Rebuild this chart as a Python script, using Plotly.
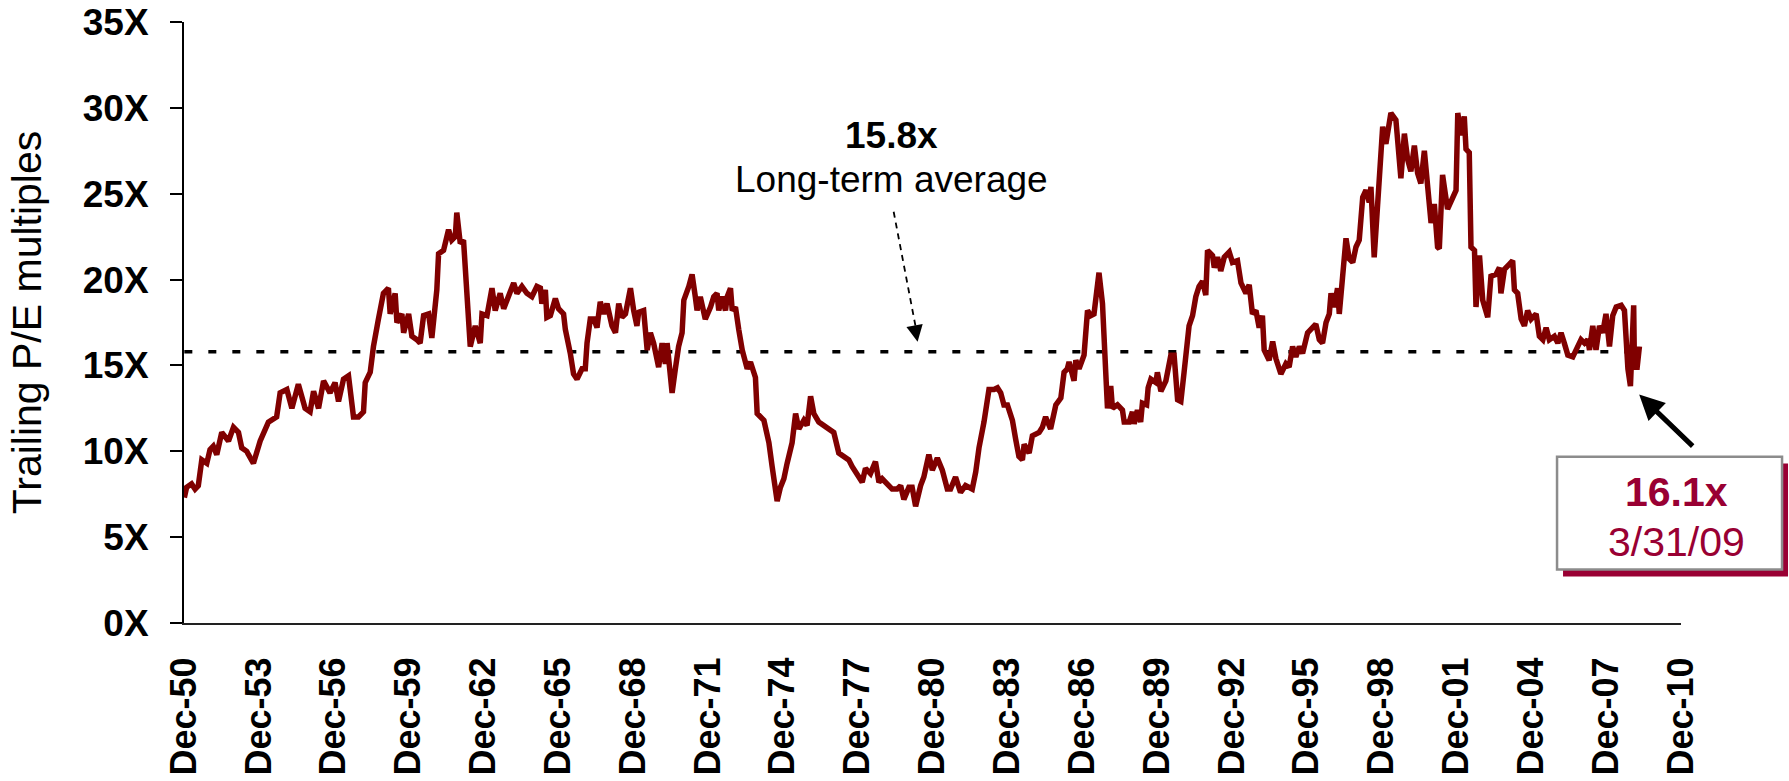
import plotly.graph_objects as go

# Trailing P/E multiple of the market, Dec-1950 through 3/31/2009 (decimal years)
years = [
    1950.93, 1951.02, 1951.22, 1951.36, 1951.49, 1951.63, 1951.83, 1951.96, 1952.09, 1952.23,
    1952.43, 1952.70, 1952.90, 1953.10, 1953.23, 1953.43, 1953.70, 1953.97, 1954.30, 1954.63,
    1954.77, 1955.04, 1955.24, 1955.50, 1955.77, 1955.97, 1956.11, 1956.31, 1956.51, 1956.77,
    1956.97, 1957.11, 1957.31, 1957.51, 1957.71, 1957.91, 1958.11, 1958.18, 1958.38, 1958.51,
    1958.71, 1958.91, 1959.11, 1959.18, 1959.38, 1959.45, 1959.65, 1959.72, 1959.92, 1960.05,
    1960.25, 1960.38, 1960.52, 1960.72, 1960.85, 1961.05, 1961.12, 1961.32, 1961.52, 1961.65,
    1961.79, 1961.85, 1961.99, 1962.12, 1962.39, 1962.46, 1962.59, 1962.79, 1962.86, 1963.06,
    1963.26, 1963.39, 1963.59, 1963.73, 1963.93, 1964.13, 1964.26, 1964.46, 1964.66, 1964.86,
    1965.06, 1965.20, 1965.26, 1965.40, 1965.46, 1965.60, 1965.80, 1965.93, 1966.13, 1966.20,
    1966.40, 1966.53, 1966.67, 1966.87, 1967.00, 1967.07, 1967.20, 1967.34, 1967.47, 1967.60,
    1967.74, 1967.87, 1968.07, 1968.21, 1968.34, 1968.47, 1968.61, 1968.81, 1968.94, 1969.07,
    1969.14, 1969.34, 1969.48, 1969.61, 1969.74, 1969.94, 1970.08, 1970.21, 1970.28, 1970.48,
    1970.61, 1970.74, 1970.88, 1970.95, 1971.15, 1971.28, 1971.41, 1971.48, 1971.61, 1971.81,
    1972.02, 1972.15, 1972.28, 1972.35, 1972.48, 1972.62, 1972.69, 1972.82, 1972.89, 1973.02,
    1973.15, 1973.29, 1973.49, 1973.62, 1973.82, 1973.89, 1974.16, 1974.36, 1974.49, 1974.69,
    1974.82, 1974.96, 1975.09, 1975.29, 1975.43, 1975.56, 1975.76, 1975.89, 1976.03, 1976.16,
    1976.36, 1976.56, 1976.76, 1976.96, 1977.16, 1977.36, 1977.56, 1977.70, 1977.90, 1978.10,
    1978.23, 1978.43, 1978.63, 1978.77, 1978.90, 1979.10, 1979.30, 1979.50, 1979.64, 1979.77,
    1979.97, 1980.10, 1980.24, 1980.44, 1980.57, 1980.77, 1980.91, 1981.11, 1981.31, 1981.51,
    1981.64, 1981.84, 1982.04, 1982.24, 1982.51, 1982.65, 1982.78, 1982.98, 1983.18, 1983.38,
    1983.52, 1983.65, 1983.78, 1983.92, 1984.12, 1984.25, 1984.38, 1984.52, 1984.59, 1984.79,
    1984.92, 1985.19, 1985.32, 1985.45, 1985.65, 1985.86, 1986.06, 1986.19, 1986.32, 1986.39,
    1986.59, 1986.66, 1986.79, 1986.99, 1987.13, 1987.26, 1987.39, 1987.59, 1987.73, 1987.86,
    1987.93, 1988.06, 1988.13, 1988.33, 1988.53, 1988.60, 1988.80, 1988.93, 1989.00, 1989.13,
    1989.26, 1989.33, 1989.50, 1989.56, 1989.67, 1989.87, 1989.93, 1990.07, 1990.27, 1990.47,
    1990.60, 1990.74, 1990.87, 1991.00, 1991.14, 1991.20, 1991.34, 1991.47, 1991.60, 1991.74,
    1991.87, 1991.94, 1992.14, 1992.21, 1992.34, 1992.47, 1992.61, 1992.81, 1992.94, 1993.14,
    1993.28, 1993.48, 1993.61, 1993.74, 1993.88, 1994.01, 1994.14, 1994.21, 1994.41, 1994.55,
    1994.68, 1994.88, 1995.08, 1995.21, 1995.35, 1995.48, 1995.62, 1995.75, 1995.95, 1996.08,
    1996.28, 1996.42, 1996.55, 1996.69, 1996.82, 1996.89, 1997.02, 1997.15, 1997.22, 1997.35,
    1997.49, 1997.62, 1997.76, 1997.89, 1998.02, 1998.16, 1998.29, 1998.42, 1998.49, 1998.62,
    1998.83, 1998.96, 1999.09, 1999.29, 1999.49, 1999.56, 1999.69, 1999.83, 1999.96, 2000.09,
    2000.23, 2000.36, 2000.49, 2000.63, 2000.76, 2000.90, 2001.03, 2001.16, 2001.23, 2001.36,
    2001.56, 2001.70, 2001.90, 2001.97, 2002.10, 2002.23, 2002.30, 2002.43, 2002.50, 2002.64,
    2002.70, 2002.84, 2002.97, 2003.17, 2003.30, 2003.50, 2003.64, 2003.70, 2003.84, 2004.04,
    2004.17, 2004.24, 2004.37, 2004.51, 2004.64, 2004.77, 2004.91, 2005.11, 2005.24, 2005.38,
    2005.51, 2005.64, 2005.84, 2005.98, 2006.11, 2006.24, 2006.38, 2006.58, 2006.78, 2006.91,
    2007.05, 2007.18, 2007.25, 2007.38, 2007.51, 2007.65, 2007.78, 2007.91, 2008.05, 2008.18,
    2008.32, 2008.52, 2008.65, 2008.79, 2008.89, 2009.02, 2009.05, 2009.16, 2009.25,
]

pe_multiple = [
    7.3, 7.9, 8.1, 7.8, 8.0, 9.5, 9.3, 10.1, 10.3, 9.8,
    11.1, 10.6, 11.4, 11.1, 10.2, 10.0, 9.3, 10.6, 11.7, 12.0,
    13.4, 13.6, 12.5, 13.9, 12.5, 12.3, 13.5, 12.5, 14.1, 13.4,
    14.0, 12.9, 14.2, 14.4, 12.0, 12.0, 12.3, 14.0, 14.6, 16.1,
    17.7, 19.2, 19.5, 18.0, 19.2, 17.5, 18.0, 16.9, 18.0, 16.7,
    16.5, 16.3, 17.9, 18.0, 16.6, 19.4, 21.5, 21.7, 22.9, 22.3,
    22.5, 23.9, 22.1, 22.3, 16.1, 16.5, 17.3, 16.3, 18.0, 17.9,
    19.5, 18.2, 19.2, 18.3, 19.0, 19.8, 19.2, 19.6, 19.2, 19.0,
    19.6, 19.5, 18.6, 19.4, 17.8, 17.9, 18.9, 18.3, 18.0, 17.1,
    15.7, 14.5, 14.2, 14.8, 14.8, 16.3, 17.7, 17.7, 17.2, 18.7,
    18.0, 18.6, 17.3, 16.9, 18.6, 17.8, 18.0, 19.5, 18.2, 17.3,
    18.1, 18.2, 15.9, 16.9, 16.3, 14.9, 16.3, 15.1, 16.3, 13.4,
    14.8, 16.1, 16.9, 18.8, 19.6, 20.3, 19.0, 18.2, 19.0, 17.7,
    18.4, 19.0, 19.2, 18.2, 19.0, 18.2, 19.0, 19.5, 18.2, 18.4,
    17.1, 15.9, 14.8, 15.2, 14.3, 12.2, 11.8, 10.5, 9.1, 7.1,
    7.9, 8.4, 9.3, 10.5, 12.2, 11.3, 11.8, 11.5, 13.2, 12.2,
    11.7, 11.5, 11.3, 11.1, 9.9, 9.7, 9.5, 9.1, 8.7, 8.2,
    9.0, 8.7, 9.4, 8.2, 8.4, 8.1, 7.8, 7.8, 8.0, 7.2,
    7.9, 7.9, 6.8, 8.0, 8.5, 9.8, 8.9, 9.6, 8.9, 7.8,
    7.8, 8.5, 7.6, 8.0, 7.8, 8.8, 10.2, 11.7, 13.6, 13.6,
    13.7, 13.4, 12.7, 12.7, 11.8, 10.7, 9.7, 9.5, 10.4, 9.9,
    10.9, 11.1, 11.4, 12.0, 11.3, 12.7, 13.1, 14.6, 14.8, 15.2,
    14.1, 15.3, 14.8, 15.6, 18.2, 17.9, 18.0, 20.4, 18.6, 14.6,
    12.5, 13.8, 12.5, 12.7, 12.4, 11.7, 11.7, 12.3, 11.6, 12.4,
    11.7, 12.8, 12.7, 13.7, 14.2, 14.0, 14.6, 13.5, 14.1, 15.6,
    15.6, 13.0, 12.9, 14.6, 16.7, 17.3, 17.9, 19.0, 19.6, 19.9,
    19.1, 21.7, 21.4, 20.7, 21.3, 20.5, 21.3, 21.6, 21.0, 21.1,
    19.8, 19.2, 19.7, 18.0, 18.2, 17.2, 17.9, 15.9, 15.3, 16.4,
    15.4, 14.5, 15.1, 14.9, 16.1, 15.5, 16.1, 15.7, 16.9, 17.1,
    17.4, 16.5, 16.3, 17.5, 18.0, 19.2, 18.4, 19.5, 18.0, 20.1,
    22.4, 21.2, 21.0, 21.9, 22.3, 24.8, 25.2, 24.5, 25.4, 21.3,
    25.8, 28.9, 27.9, 29.7, 29.3, 28.3, 25.9, 28.5, 27.0, 26.3,
    27.8, 26.2, 25.6, 27.5, 25.3, 23.3, 24.4, 21.9, 21.8, 26.1,
    24.1, 24.6, 25.2, 29.7, 28.4, 29.5, 27.6, 27.4, 21.9, 21.7,
    18.4, 21.4, 18.8, 17.8, 20.2, 20.3, 20.7, 19.2, 20.6, 20.9,
    21.1, 19.4, 19.2, 17.7, 17.3, 18.2, 17.7, 18.0, 16.7, 16.5,
    17.2, 16.5, 16.7, 16.3, 16.9, 16.3, 15.6, 15.5, 16.1, 16.5,
    16.3, 16.5, 15.9, 17.3, 15.9, 17.3, 16.9, 18.0, 16.1, 17.9,
    18.4, 18.5, 18.2, 14.8, 13.8, 18.5, 14.9, 14.9, 16.1,
]

long_term_average = 15.8
latest_value = 16.1
latest_label = "3/31/09"

# Axis ticks: every third December from 1950 to 2010
tick_years = list(range(1950, 2011, 3))
tick_positions = [y + 11 / 12 for y in tick_years]
tick_labels = [f"Dec-{y % 100:02d}" for y in tick_years]
y_ticks = [0, 5, 10, 15, 20, 25, 30, 35]

FONT = "Liberation Sans, Arial, sans-serif"
LINE_COLOR = "#800000"
ACCENT = "#990033"

fig = go.Figure()

# Long-term average reference line spans the full history
fig.add_trace(go.Scatter(
    x=[years[0], years[-1]],
    y=[long_term_average, long_term_average],
    mode="lines",
    line=dict(color="black", width=3.5, dash="8px,16px"),
    hoverinfo="skip",
    showlegend=False,
))

fig.add_trace(go.Scatter(
    x=years,
    y=pe_multiple,
    mode="lines",
    line=dict(color=LINE_COLOR, width=5.5),
    showlegend=False,
))

x_start = tick_positions[0]
x_end = tick_positions[-1]

fig.update_layout(
    width=1789,
    height=781,
    margin=dict(l=184, r=108, t=22, b=157.5),
    paper_bgcolor="white",
    plot_bgcolor="white",
    font=dict(family=FONT, color="black"),
    xaxis=dict(
        range=[x_start, x_end],
        tickmode="array",
        tickvals=tick_positions,
        ticktext=tick_labels,
        tickangle=-90,
        tickfont=dict(family=FONT, size=36, color="black", weight="bold"),
        ticks="",
        ticklabelstandoff=18,
        showline=True,
        linecolor="#222222",
        linewidth=2,
        showgrid=False,
        zeroline=False,
        automargin=False,
    ),
    yaxis=dict(
        range=[0, 35],
        tickmode="array",
        tickvals=y_ticks,
        ticktext=[f"{v}X" for v in y_ticks],
        tickfont=dict(family=FONT, size=37, color="black", weight="bold"),
        ticks="outside",
        ticklen=12,
        tickwidth=2,
        tickcolor="black",
        ticklabelstandoff=14,
        showline=True,
        linecolor="black",
        linewidth=2,
        showgrid=False,
        zeroline=False,
        automargin=False,
        title=dict(
            text="Trailing P/E multiples",
            font=dict(family=FONT, size=41, color="black"),
            standoff=28,
        ),
    ),
)

# Long-term average callout
avg_label_x = 1979.27
fig.add_annotation(
    x=avg_label_x, y=28.4, xref="x", yref="y",
    text="<b>15.8x</b>", showarrow=False,
    font=dict(family=FONT, size=37, color="black"),
    xanchor="center", yanchor="middle",
)
fig.add_annotation(
    x=avg_label_x, y=25.85, xref="x", yref="y",
    text="Long-term average", showarrow=False,
    font=dict(family=FONT, size=37, color="black"),
    xanchor="center", yanchor="middle",
)
# dashed pointer down to the average line
fig.add_shape(
    type="line", xref="x", yref="y",
    x0=1979.36, y0=23.95, x1=1980.26, y1=17.1,
    line=dict(color="black", width=1.8, dash="6px,5px"),
)
fig.add_annotation(
    x=1980.32, y=16.38, xref="x", yref="y",
    ax=-3, ay=-16, text="", showarrow=True,
    arrowhead=2, arrowsize=2.2, arrowwidth=1.5, arrowcolor="black",
)

# Latest reading call-out box with offset shadow
fig.add_shape(
    type="rect", xref="paper", yref="paper",
    x0=0.9212, x1=1.0715, y0=0.0773, y1=0.2652,
    line=dict(width=0), fillcolor=ACCENT, layer="above",
)
fig.add_shape(
    type="rect", xref="paper", yref="paper",
    x0=0.9172, x1=1.0675, y0=0.0889, y1=0.2768,
    line=dict(color="#8c8c8c", width=2.5), fillcolor="white", layer="above",
)
fig.add_annotation(
    x=0.9968, y=0.2188, xref="paper", yref="paper",
    text=f"<b>{latest_value}x</b>", showarrow=False,
    font=dict(family=FONT, size=41, color=ACCENT),
    xanchor="center", yanchor="middle",
)
fig.add_annotation(
    x=0.9968, y=0.1355, xref="paper", yref="paper",
    text=latest_label, showarrow=False,
    font=dict(family=FONT, size=41, color=ACCENT),
    xanchor="center", yanchor="middle",
)
fig.add_annotation(
    x=years[-1] - 0.01, y=13.3, xref="x", yref="y",
    ax=55, ay=53, text="", showarrow=True,
    arrowhead=2, arrowsize=1.0, arrowwidth=5, arrowcolor="black",
)

fig.write_html("out.html")
